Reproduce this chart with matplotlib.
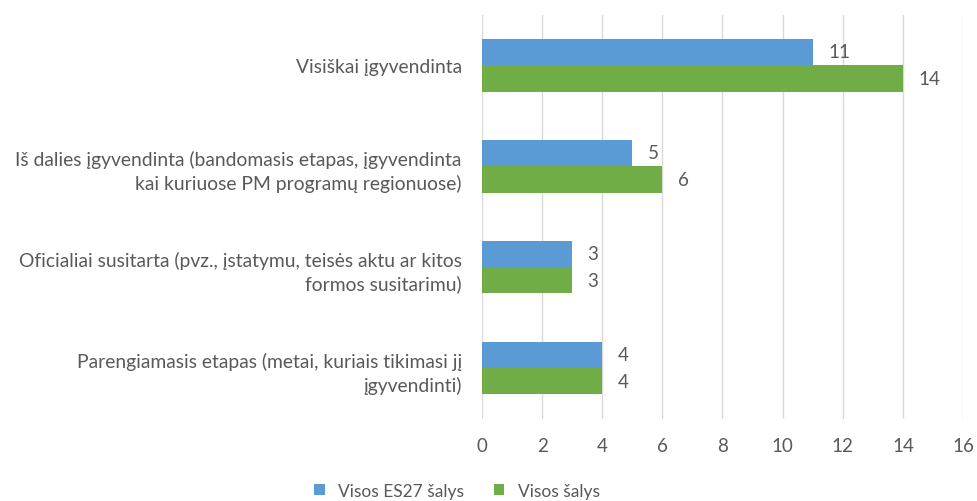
import numpy as np
import matplotlib.pyplot as plt

plt.rcParams['font.family'] = ['Lato', 'DejaVu Sans']
plt.rcParams['font.size'] = 14

categories = [
    "Visiškai įgyvendinta",
    "Iš dalies įgyvendinta (bandomasis etapas, įgyvendinta\nkai kuriuose PM programų regionuose)",
    "Oficialiai susitarta (pvz., įstatymu, teisės aktu ar kitos\nformos susitarimu)",
    "Parengiamasis etapas (metai, kuriais tikimasi jį\nįgyvendinti)",
]
es27_values = [11, 5, 3, 4]
all_values = [14, 6, 3, 4]
series_names = ["Visos ES27 šalys", "Visos šalys"]
xticks = [0, 2, 4, 6, 8, 10, 12, 14, 16]

text_color = "#595959"
blue = "#5B9BD5"
green = "#70AD47"

fig = plt.figure(figsize=(9.77, 5.02), dpi=100)
ax = fig.add_axes([0.4933, 0.1643, 0.4924, 0.8047])

y = np.arange(len(categories))
h = 0.262
b1 = ax.barh(y - h / 2, es27_values, height=h, color=blue, label=series_names[0], zorder=3)
b2 = ax.barh(y + h / 2, all_values, height=h, color=green, label=series_names[1], zorder=3)

for bars in (b1, b2):
    for rect in bars:
        w = rect.get_width()
        ax.annotate("{}".format(int(w)), xy=(w, rect.get_y() + rect.get_height() / 2),
                    xytext=(11, 0), textcoords="offset points", ha="left", va="center",
                    color=text_color, fontsize=13.5)

ax.set_xlim(0, 16)
ax.set_ylim(len(categories) - 0.5, -0.5)
ax.set_xticks(xticks)
ax.set_yticks(y)
ax.set_yticklabels(categories, ha="right", color=text_color, fontsize=13.9, linespacing=1.4)
ax.tick_params(axis="y", length=0, pad=14.5)
ax.tick_params(axis="x", length=0, pad=13, colors=text_color, labelsize=13.5)
ax.grid(axis="x", color="#D9D9D9", linewidth=1, zorder=0)
for s in ax.spines.values():
    s.set_visible(False)

fig.legend(handles=[b1, b2], labels=series_names, loc="center", bbox_to_anchor=(0.468, 0.02),
           ncol=2, frameon=False, handlelength=0.6, handleheight=0.6, columnspacing=1.7,
           handletextpad=0.8, fontsize=12.5, labelcolor=text_color)

plt.savefig("out.png", dpi=100)
